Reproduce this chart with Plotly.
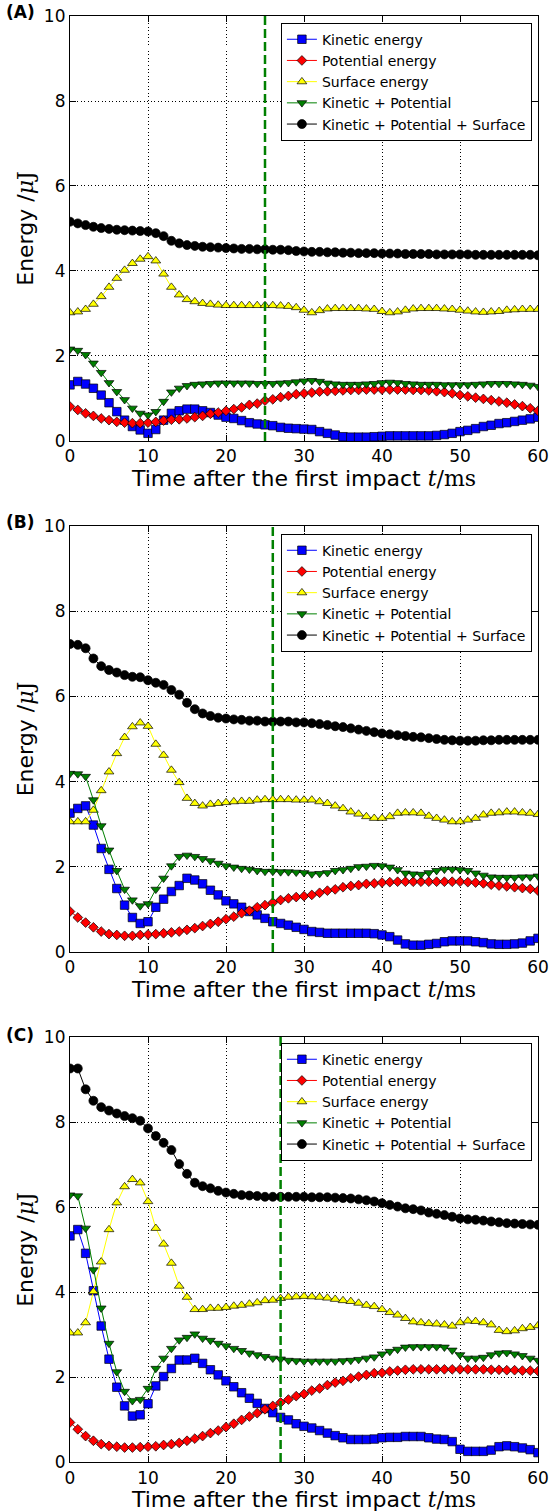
import plotly.graph_objects as go

T = list(range(61))

# ---------------- Panel A ----------------
KA = [1.32, 1.40, 1.34, 1.24, 1.08, 0.90, 0.69, 0.49, 0.34, 0.26, 0.18,
      0.27, 0.49, 0.65, 0.71, 0.75, 0.75, 0.71, 0.67, 0.61, 0.56,
      0.53, 0.48, 0.43, 0.40, 0.38, 0.36, 0.32, 0.30, 0.29, 0.28,
      0.27, 0.22, 0.18, 0.14, 0.10, 0.09, 0.09, 0.09, 0.10, 0.11,
      0.12, 0.12, 0.12, 0.12, 0.12, 0.12, 0.13, 0.15, 0.18, 0.22,
      0.25, 0.29, 0.34, 0.37, 0.41, 0.43, 0.46, 0.49, 0.52, 0.56]
PA = [0.81, 0.73, 0.65, 0.59, 0.53, 0.49, 0.45, 0.43, 0.42, 0.42, 0.43,
      0.45, 0.48, 0.50, 0.51, 0.53, 0.56, 0.59, 0.64, 0.67, 0.71,
      0.75, 0.79, 0.85, 0.88, 0.95, 0.98, 1.03, 1.06, 1.10, 1.12,
      1.14, 1.16, 1.17, 1.18, 1.19, 1.20, 1.20, 1.21, 1.21, 1.21,
      1.21, 1.21, 1.21, 1.20, 1.20, 1.19, 1.17, 1.15, 1.12, 1.08,
      1.05, 1.02, 0.99, 0.96, 0.93, 0.90, 0.86, 0.82, 0.77, 0.71]
SA = [3.02, 3.04, 3.10, 3.22, 3.40, 3.62, 3.83, 4.02, 4.18, 4.28, 4.34,
      4.24, 3.93, 3.62, 3.44, 3.33, 3.28, 3.24, 3.22, 3.20, 3.19,
      3.19, 3.19, 3.19, 3.19, 3.19, 3.19, 3.18, 3.17, 3.14, 3.08,
      3.02, 3.07, 3.11, 3.12, 3.12, 3.12, 3.12, 3.11, 3.10, 3.05,
      3.02, 3.04, 3.08, 3.11, 3.12, 3.12, 3.12, 3.11, 3.10, 3.08,
      3.06, 3.04, 3.03, 3.04, 3.05, 3.08, 3.09, 3.10, 3.10, 3.10]
KPA = [2.16, 2.13, 2.03, 1.83, 1.61, 1.37, 1.16, 0.97, 0.77, 0.65, 0.61,
       0.69, 0.93, 1.15, 1.24, 1.30, 1.33, 1.34, 1.35, 1.36, 1.36,
       1.36, 1.36, 1.36, 1.35, 1.35, 1.35, 1.36, 1.37, 1.39, 1.41,
       1.42, 1.40, 1.36, 1.34, 1.33, 1.33, 1.33, 1.34, 1.35, 1.37,
       1.38, 1.37, 1.35, 1.34, 1.33, 1.33, 1.33, 1.32, 1.32, 1.32,
       1.32, 1.33, 1.34, 1.35, 1.35, 1.35, 1.34, 1.33, 1.31, 1.28]
TA = [5.16, 5.12, 5.08, 5.04, 5.01, 4.99, 4.97, 4.96, 4.95, 4.94, 4.93,
      4.89, 4.82, 4.71, 4.65, 4.61, 4.59, 4.57, 4.56, 4.55, 4.54,
      4.53, 4.52, 4.52, 4.51, 4.51, 4.50, 4.50, 4.49, 4.47, 4.46,
      4.45, 4.45, 4.44, 4.44, 4.43, 4.43, 4.42, 4.42, 4.42, 4.41,
      4.41, 4.41, 4.40, 4.40, 4.40, 4.40, 4.39, 4.39, 4.39, 4.39,
      4.39, 4.38, 4.38, 4.38, 4.38, 4.38, 4.38, 4.38, 4.38, 4.37]

# ---------------- Panel B ----------------
KB = [3.26, 3.37, 3.43, 2.98, 2.43, 1.94, 1.49, 1.10, 0.81, 0.67, 0.71,
      1.05, 1.24, 1.42, 1.56, 1.73, 1.69, 1.60, 1.45, 1.34, 1.20,
      1.13, 1.05, 0.95, 0.87, 0.79, 0.71, 0.67, 0.63, 0.58, 0.53,
      0.48, 0.46, 0.44, 0.44, 0.44, 0.44, 0.44, 0.44, 0.43, 0.40,
      0.36, 0.28, 0.19, 0.16, 0.16, 0.18, 0.20, 0.24, 0.26, 0.26,
      0.26, 0.24, 0.22, 0.19, 0.18, 0.18, 0.19, 0.21, 0.26, 0.32]
PB = [0.95, 0.81, 0.69, 0.58, 0.48, 0.42, 0.40, 0.38, 0.38, 0.40, 0.41,
      0.42, 0.44, 0.46, 0.48, 0.52, 0.56, 0.61, 0.66, 0.71, 0.77,
      0.83, 0.91, 0.97, 1.05, 1.10, 1.16, 1.22, 1.26, 1.29, 1.31,
      1.34, 1.39, 1.44, 1.47, 1.52, 1.55, 1.57, 1.60, 1.61, 1.63,
      1.64, 1.65, 1.65, 1.65, 1.65, 1.65, 1.65, 1.65, 1.65, 1.65,
      1.64, 1.63, 1.61, 1.58, 1.56, 1.54, 1.52, 1.50, 1.48, 1.44]
SB = [3.06, 3.06, 3.06, 3.33, 3.79, 4.23, 4.66, 5.04, 5.29, 5.38, 5.30,
      4.88, 4.62, 4.27, 3.98, 3.61, 3.49, 3.43, 3.47, 3.49, 3.51,
      3.53, 3.54, 3.54, 3.57, 3.58, 3.58, 3.58, 3.58, 3.57, 3.57,
      3.57, 3.53, 3.49, 3.43, 3.37, 3.29, 3.24, 3.18, 3.14, 3.14,
      3.18, 3.26, 3.27, 3.27, 3.26, 3.19, 3.14, 3.10, 3.06, 3.06,
      3.10, 3.14, 3.22, 3.26, 3.27, 3.29, 3.29, 3.27, 3.26, 3.23]
KPB = [4.19, 4.18, 4.12, 3.57, 2.96, 2.39, 1.91, 1.47, 1.22, 1.08, 1.13,
       1.47, 1.73, 2.02, 2.24, 2.27, 2.24, 2.19, 2.14, 2.08, 2.02,
       1.99, 1.96, 1.94, 1.91, 1.89, 1.89, 1.88, 1.88, 1.87, 1.86,
       1.83, 1.84, 1.86, 1.91, 1.93, 1.96, 2.00, 2.01, 2.03, 2.02,
       1.99, 1.93, 1.85, 1.83, 1.82, 1.86, 1.91, 1.94, 1.94, 1.93,
       1.91, 1.85, 1.80, 1.76, 1.75, 1.75, 1.75, 1.76, 1.76, 1.78]
TB = [7.23, 7.21, 7.13, 6.89, 6.71, 6.62, 6.56, 6.50, 6.46, 6.45, 6.38,
      6.32, 6.27, 6.15, 6.04, 5.85, 5.70, 5.60, 5.54, 5.50, 5.48,
      5.46, 5.45, 5.43, 5.43, 5.41, 5.41, 5.41, 5.41, 5.39, 5.39,
      5.37, 5.35, 5.33, 5.30, 5.28, 5.25, 5.22, 5.19, 5.16, 5.13,
      5.11, 5.09, 5.07, 5.05, 5.04, 5.02, 5.00, 4.98, 4.97, 4.96,
      4.96, 4.96, 4.97, 4.97, 4.98, 4.98, 4.98, 4.98, 4.98, 4.98]

# ---------------- Panel C ----------------
KC = [5.32, 5.47, 4.91, 4.03, 3.20, 2.42, 1.76, 1.32, 1.08, 1.11, 1.37,
      1.79, 2.01, 2.20, 2.40, 2.40, 2.44, 2.32, 2.17, 2.05, 1.91,
      1.77, 1.63, 1.50, 1.38, 1.26, 1.16, 1.05, 0.99, 0.90, 0.84,
      0.80, 0.74, 0.68, 0.62, 0.57, 0.53, 0.53, 0.53, 0.54, 0.57,
      0.58, 0.58, 0.60, 0.60, 0.60, 0.57, 0.54, 0.53, 0.48, 0.30,
      0.25, 0.25, 0.25, 0.28, 0.36, 0.38, 0.36, 0.33, 0.29, 0.22]
PC = [0.93, 0.77, 0.61, 0.50, 0.42, 0.38, 0.36, 0.34, 0.34, 0.35, 0.36,
      0.37, 0.40, 0.42, 0.45, 0.50, 0.55, 0.61, 0.68, 0.74, 0.82,
      0.90, 0.99, 1.07, 1.15, 1.24, 1.32, 1.40, 1.47, 1.55, 1.60,
      1.68, 1.73, 1.81, 1.87, 1.91, 1.97, 2.01, 2.05, 2.09, 2.10,
      2.13, 2.15, 2.17, 2.18, 2.18, 2.18, 2.18, 2.18, 2.18, 2.18,
      2.18, 2.18, 2.18, 2.17, 2.17, 2.16, 2.16, 2.15, 2.15, 2.14]
SC = [3.04, 3.04, 3.28, 4.01, 4.71, 5.47, 6.10, 6.48, 6.65, 6.57, 6.13,
      5.50, 5.13, 4.68, 4.14, 3.88, 3.59, 3.59, 3.62, 3.62, 3.64,
      3.67, 3.69, 3.72, 3.75, 3.80, 3.81, 3.85, 3.88, 3.89, 3.90,
      3.89, 3.88, 3.86, 3.83, 3.80, 3.78, 3.74, 3.69, 3.66, 3.59,
      3.52, 3.46, 3.38, 3.30, 3.28, 3.26, 3.25, 3.23, 3.20, 3.28,
      3.32, 3.31, 3.28, 3.23, 3.10, 3.07, 3.09, 3.14, 3.17, 3.21]
KPC = [6.28, 6.26, 5.50, 4.52, 3.62, 2.79, 2.12, 1.66, 1.44, 1.47, 1.73,
       2.20, 2.44, 2.67, 2.87, 2.93, 3.01, 2.91, 2.86, 2.79, 2.73,
       2.67, 2.62, 2.56, 2.52, 2.48, 2.44, 2.42, 2.39, 2.38, 2.37,
       2.37, 2.37, 2.37, 2.37, 2.38, 2.39, 2.41, 2.44, 2.47, 2.54,
       2.60, 2.65, 2.70, 2.71, 2.71, 2.71, 2.71, 2.70, 2.63, 2.52,
       2.44, 2.44, 2.46, 2.52, 2.56, 2.57, 2.54, 2.50, 2.44, 2.39]
TC = [9.26, 9.26, 8.77, 8.50, 8.35, 8.27, 8.20, 8.14, 8.09, 8.03, 7.85,
      7.67, 7.51, 7.34, 7.01, 6.78, 6.57, 6.49, 6.44, 6.38, 6.34,
      6.31, 6.28, 6.27, 6.26, 6.24, 6.24, 6.24, 6.24, 6.24, 6.24,
      6.23, 6.23, 6.23, 6.22, 6.21, 6.20, 6.18, 6.16, 6.13, 6.09,
      6.05, 6.01, 5.97, 5.95, 5.92, 5.87, 5.84, 5.81, 5.77, 5.73,
      5.71, 5.70, 5.68, 5.66, 5.64, 5.62, 5.61, 5.60, 5.59, 5.58]

SERIES_NAMES = ["Kinetic energy", "Potential energy", "Surface energy",
                "Kinetic + Potential", "Kinetic + Potential + Surface"]
PANEL_LABELS = ["(A)", "(B)", "(C)"]
IMPACT_LINES = [25, 26, 27]
X_TICKS = [0, 10, 20, 30, 40, 50, 60]
Y_TICKS = [0, 2, 4, 6, 8, 10]

panels = [[KA, PA, SA, KPA, TA], [KB, PB, SB, KPB, TB], [KC, PC, SC, KPC, TC]]

styles = [
    dict(color="#0000ff", symbol="square", size=8.5),
    dict(color="#ff0000", symbol="diamond", size=7.5),
    dict(color="#ffff00", symbol="triangle-up", size=8.5),
    dict(color="#008000", symbol="triangle-down", size=8.5),
    dict(color="#000000", symbol="circle", size=9),
]

# layout geometry (paper fractions)
ydomains = [[0.7061, 1.0], [0.3527, 0.6473], [0.0, 0.2939]]
legend_y = [0.9954, 0.6420, 0.2900]
label_y = [1.0028, 0.650, 0.2953]

FONT = "DejaVu Sans"
fig = go.Figure()

for p, data in enumerate(panels):
    sfx = "" if p == 0 else str(p + 1)
    leg = "legend" + sfx
    for s, (vals, st) in enumerate(zip(data, styles)):
        fig.add_trace(go.Scatter(
            x=T, y=vals, mode="lines+markers", name=SERIES_NAMES[s],
            xaxis="x" + sfx, yaxis="y" + sfx, legend=leg,
            line=dict(color=st["color"], width=1),
            marker=dict(symbol=st["symbol"], size=st["size"], color=st["color"],
                        line=dict(color="black", width=0.7)),
        ))

    axis_common = dict(
        showline=True, linecolor="black", linewidth=1.2, mirror="ticks",
        ticks="inside", ticklen=6, tickwidth=1, tickcolor="black",
        showgrid=True, gridcolor="black", gridwidth=0.8, griddash="1px,2.5px",
        zeroline=False, automargin=False,
        tickfont=dict(family=FONT, size=17, color="black"),
    )
    fig.layout["xaxis" + sfx] = dict(
        axis_common, domain=[0, 1], range=[0, 60], tickvals=X_TICKS,
        anchor="y" + sfx,
        title=dict(text='Time after the first impact <span style="font-family:DejaVu Serif"><i>t</i>/ms</span>',
                   font=dict(family=FONT, size=22, color="black"), standoff=0),
    )
    fig.layout["yaxis" + sfx] = dict(
        axis_common, domain=ydomains[p], range=[0, 10], tickvals=Y_TICKS,
        anchor="x" + sfx,
        title=dict(text='Energy /<span style="font-family:DejaVu Serif"><i>μ</i>J</span>',
                   font=dict(family=FONT, size=22, color="black"), standoff=4),
    )
    fig.layout[leg] = dict(
        x=0.987, xanchor="right", y=legend_y[p], yanchor="top",
        bgcolor="white", bordercolor="black", borderwidth=1,
        font=dict(family=FONT, size=14, color="black"),
        tracegroupgap=0, itemwidth=30,
    )
    fig.add_shape(type="line", xref="x" + sfx, yref="y" + sfx + " domain",
                  x0=IMPACT_LINES[p], x1=IMPACT_LINES[p], y0=0, y1=1,
                  line=dict(color="#008000", width=2.5, dash="9px,4px"))
    fig.add_annotation(text="<b>" + PANEL_LABELS[p] + "</b>", xref="paper", yref="paper",
                       x=-0.142, y=label_y[p], xanchor="left", yanchor="middle",
                       showarrow=False, font=dict(family=FONT, size=17, color="black"))

fig.update_layout(
    width=550, height=1512,
    margin=dict(l=70, r=12, t=16, b=50),
    plot_bgcolor="white", paper_bgcolor="white",
    font=dict(family=FONT, color="black"),
    showlegend=True,
)

fig.write_html("out.html")
